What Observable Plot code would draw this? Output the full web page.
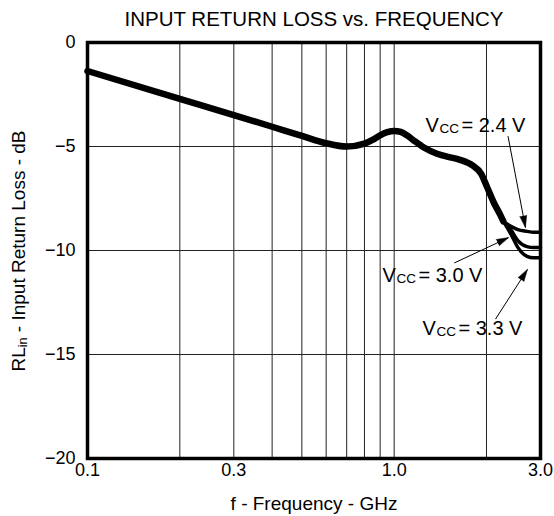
<!DOCTYPE html>
<html><head><meta charset="utf-8">
<script src="https://cdn.jsdelivr.net/npm/d3@7"></script>
<script src="https://cdn.jsdelivr.net/npm/@observablehq/plot@0.6"></script>
<style>
body{margin:0;background:#fff;}
svg{font-family:"Liberation Sans",Arial,Helvetica,sans-serif;}
</style>
</head><body><div id="chart"></div>
<script>
// Shared curve (all supply voltages overlap)
const sharedFreq = [0.1,0.2,0.3,0.4,0.5,0.6,0.7,0.8,0.85,0.9,0.95,1.0,1.05,1.1,1.156,1.25,1.38,1.5,1.64,1.80,1.92,2.01,2.11,2.22,2.27];
const sharedRL   = [-1.37,-2.71,-3.49,-4.05,-4.49,-4.84,-5.0,-4.86,-4.68,-4.46,-4.31,-4.25,-4.3,-4.46,-4.7,-5.05,-5.35,-5.5,-5.64,-5.91,-6.3,-6.96,-7.68,-8.3,-8.6];
// Branches after the curves split
const branchFreq = [2.27,2.41,2.53,2.71,2.85,3.0];
const rl24 = [-8.6,-8.85,-9.0,-9.08,-9.12,-9.12];
const rl30 = [-8.6,-9.04,-9.52,-9.81,-9.86,-9.86];
const rl33 = [-8.6,-9.25,-9.85,-10.28,-10.35,-10.35];
// Labels and arrows
const labelNames = ["2.4 V","3.0 V","3.3 V"];
const labelFreq = [1.265,0.916,1.237];
const labelRL = [-3.99,-11.2,-13.75];
const arrowFrom = [[2.35,-4.5],[1.57,-10.6],[2.14,-13.3]];
const arrowTo   = [[2.68,-8.9],[2.36,-9.38],[2.72,-10.91]];
const xTicks = [0.1,0.3,1.0,3.0];
const xGrid = [0.2,0.3,0.4,0.5,0.6,0.7,0.8,0.9,1.0,2.0];
const yTicks = [0,-5,-10,-15,-20];
const yGrid = [-5,-10,-15];

const shared = sharedFreq.map((f,i)=>({f, rl: sharedRL[i]}));
const branches = [
  ...branchFreq.map((f,i)=>({f, rl: rl24[i], s:"2.4"})),
  ...branchFreq.map((f,i)=>({f, rl: rl30[i], s:"3.0"})),
  ...branchFreq.map((f,i)=>({f, rl: rl33[i], s:"3.3"}))
];
const labels = labelNames.map((n,i)=>({f: labelFreq[i], rl: labelRL[i], n}));
const arrows = arrowFrom.map((a,i)=>({x1:a[0],y1:a[1],x2:arrowTo[i][0],y2:arrowTo[i][1]}));

const base = {
  width: 554, height: 516,
  marginLeft: 87, marginRight: 14, marginTop: 42, marginBottom: 58,
  x: {type:"log", domain:[0.1,3.0]},
  y: {domain:[-20,0]},
  style: {fontFamily:'"Liberation Sans",Arial,sans-serif', background:"#fff", color:"#000"}
};
const marks = [
  Plot.gridX(xGrid, {stroke:"#222", strokeOpacity:1, strokeWidth:1}),
  Plot.gridY(yGrid, {stroke:"#222", strokeOpacity:1, strokeWidth:1}),
  Plot.axisX(xTicks, {tickSize:0, tickPadding:5, fontSize:18, tickFormat: d=>d.toFixed(1), label:null}),
  Plot.axisY(yTicks, {tickSize:0, tickPadding:12, fontSize:18, tickFormat: d=> d===0 ? "0" : "\u2212"+Math.abs(d), label:null}),
  Plot.line(branches, {x:"f", y:"rl", z:"s", stroke:"#000", strokeWidth:3.5, curve:"monotone-x"}),
  Plot.line(shared, {x:"f", y:"rl", stroke:"#000", strokeWidth:6.5, curve:"monotone-x"}),
  Plot.link(arrows, {x1:"x1", y1:"y1", x2:"x2", y2:"y2", stroke:"#000", strokeWidth:1}),
  Plot.text(labels, {x:"f", y:"rl", text:()=>"V", textAnchor:"start", fontSize:20, fill:"#000"}),
  Plot.text(labels, {x:"f", y:"rl", text:()=>"CC", textAnchor:"start", fontSize:13.5, dx:14, dy:3, fill:"#000"}),
  Plot.text(labels, {x:"f", y:"rl", text:d=>"= "+d.n, textAnchor:"start", fontSize:20, dx:36, fill:"#000"}),
  Plot.text(["INPUT RETURN LOSS vs. FREQUENCY"], {frameAnchor:"top", dy:-31, fontSize:20.5, fill:"#000"}),
  Plot.text(["f - Frequency - GHz"], {frameAnchor:"bottom", dy:51, fontSize:19, fill:"#000"}),
  Plot.frame({stroke:"#000", strokeWidth:3.5})
];
// first pass to obtain the scales, used to orient the filled arrow heads
const probe = Plot.plot({...base, marks});
const sx = probe.scale("x"), sy = probe.scale("y");
arrows.forEach(a => {
  const dx = sx.apply(a.x2) - sx.apply(a.x1);
  const dy = sy.apply(a.y2) - sy.apply(a.y1);
  a.angle = Math.atan2(dx, -dy) * 180 / Math.PI;
});
let plot;
try {
  plot = Plot.plot({...base, marks: [...marks,
    Plot.vector(arrows, {x:"x2", y:"y2", rotate:"angle", length:12, shape:"spike", anchor:"end", r:3.5, fill:"#000", stroke:"#000", strokeWidth:0.5})
  ]});
} catch (e) {
  plot = Plot.plot({...base, marks: [...marks,
    Plot.arrow(arrows, {x1:"x1", y1:"y1", x2:"x2", y2:"y2", stroke:"#000", strokeWidth:1, headLength:12, headAngle:34})
  ]});
}
const svg = d3.select(plot);
const t = svg.append("text")
  .attr("transform","translate(20,251) rotate(-90)")
  .attr("text-anchor","middle")
  .attr("font-size",19)
  .attr("fill","#000")
  .attr("dominant-baseline","middle");
t.append("tspan").text("RL");
t.append("tspan").attr("font-size",12.5).attr("dy",3.5).text("in");
t.append("tspan").attr("dy",-3.5).text(" - Input Return Loss - dB");
document.getElementById("chart").appendChild(plot);
</script>
</body></html>
